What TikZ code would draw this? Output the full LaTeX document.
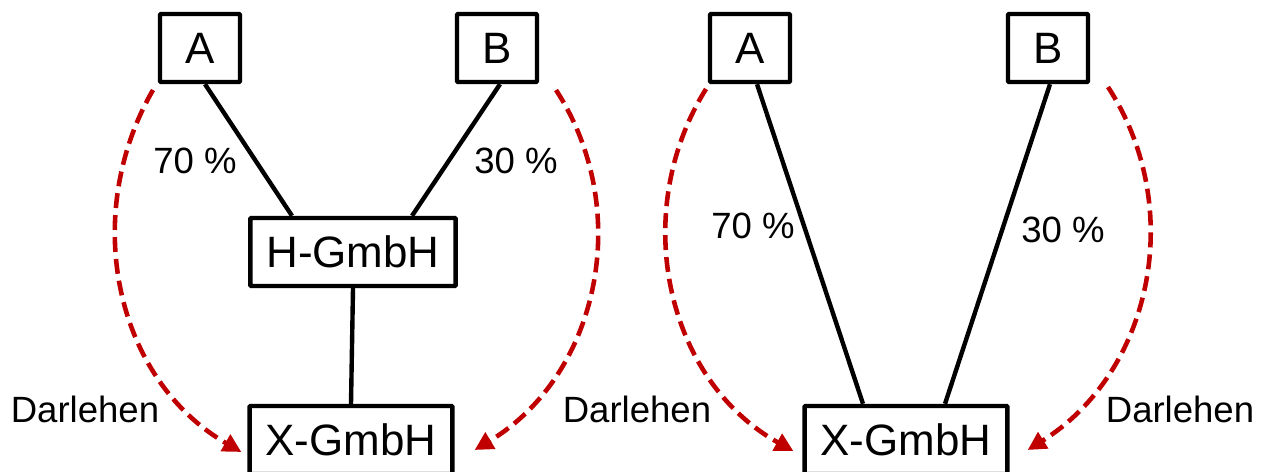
\documentclass[tikz,border=0pt]{standalone}
\usepackage{fontspec}
\setmainfont{Liberation Sans}
\usetikzlibrary{arrows.meta,calc}
\definecolor{loanred}{RGB}{192,0,0}
\tikzset{
  box/.style  = {rectangle, draw, line width=2.5pt, rounded corners=0.5pt,
                 minimum width=1.6cm, minimum height=1.36cm,
                 inner xsep=0.32cm, font=\fontsize{25}{30}\selectfont},
  link/.style = {line width=2.5pt},
  loan/.style = {-{Triangle[length=10.5pt,width=10.5pt]}, draw=loanred,
                 line width=2.6pt, dash pattern=on 8.5pt off 4pt},
  lab/.style  = {font=\fontsize{20.8}{25}\selectfont}
}
\begin{document}
\begin{tikzpicture}[x=0.02cm, y=0.02cm]
    \useasboundingbox (0,0) rectangle (1263,471);
    % links: ueber Holding
    \node[box] (A1) at (200,423) {A};
    \node[box] (B1) at (497,423) {B};
    \node[box] (H)  at (353,219) {H-GmbH};
    \node[box] (X1) at (351,31)  {X-GmbH};
    \draw[link] ($(A1.south)+(5,0)$) -- ($(H.north)+(-61,0)$);
    \draw[link] ($(B1.south)+(3,0)$) -- ($(H.north)+(59,0)$);
    \draw[link] (H.south) -- (X1.north);
    \node[lab] (p70a) at (195,310) {70 \%};
    \node[lab] (p30a) at (516,310) {30 \%};
    \coordinate (la) at (153,381);
    \coordinate (lb) at (556,381);
    \draw[loan] (la) to[out=240, in=150] ($(X1.west)+(-6,-12)$);
    \draw[loan] (lb) to[out=303, in=31] ($(X1.east)+(20,-10)$);
    \node[lab] (d1) at (85,62)  {Darlehen};
    \node[lab] (d2) at (637,62) {Darlehen};
    % rechts: direkt
    \node[box] (A2) at (750,423)  {A};
    \node[box] (B2) at (1048,423) {B};
    \node[box] (X2) at (906,31)   {X-GmbH};
    \draw[link] ($(A2.south)+(7,0)$) -- ($(X2.north)+(-43,0)$);
    \draw[link] ($(B2.south)+(2,0)$) -- ($(X2.north)+(39,0)$);
    \node[lab] (p70b) at (753,245)  {70 \%};
    \node[lab] (p30b) at (1063,241) {30 \%};
    \coordinate (ra) at (706,382);
    \coordinate (rb) at (1108,384);
    \draw[loan] (ra) to[out=238, in=151] ($(X2.west)+(-9,-11)$);
    \draw[loan] (rb) to[out=303, in=32] ($(X2.east)+(18,-10)$);
    \node[lab] (d3) at (1180,62) {Darlehen};
  \end{tikzpicture}
\end{document}
